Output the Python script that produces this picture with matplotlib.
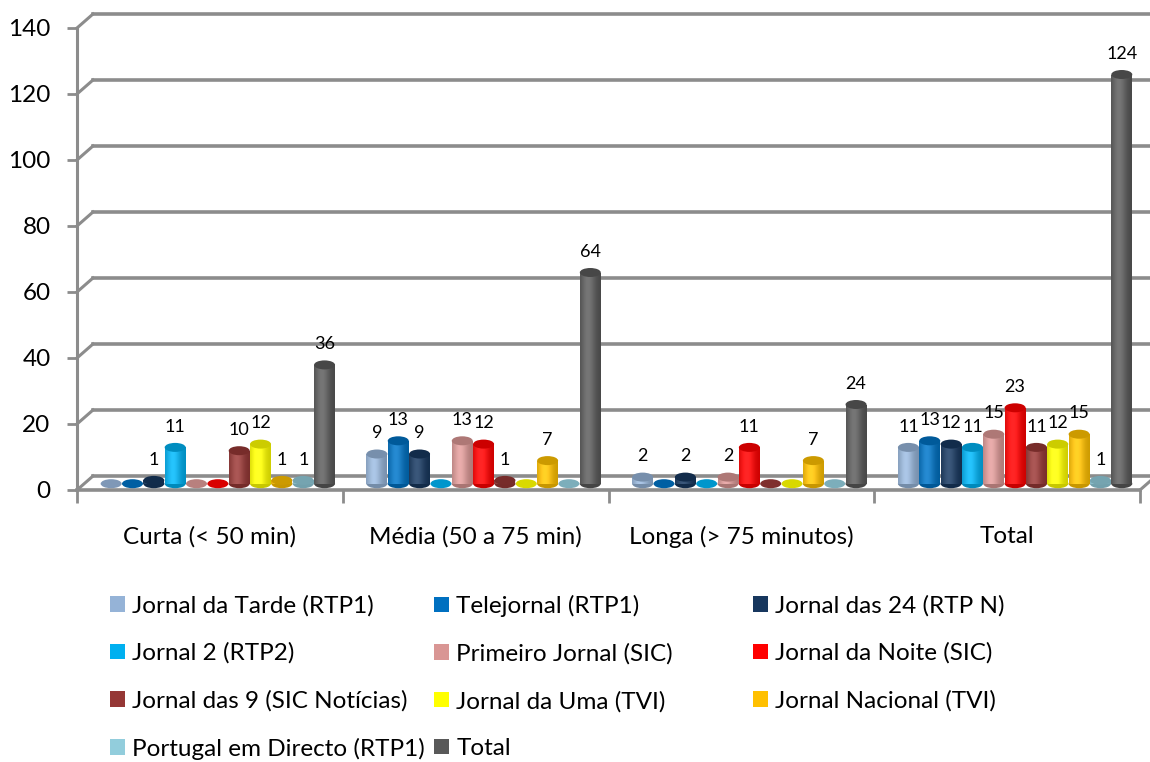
import matplotlib
matplotlib.use("Agg")
import matplotlib.pyplot as plt
import numpy as np
from matplotlib.patches import Ellipse, Patch
import matplotlib.colors as mcolors

plt.rcParams['font.family'] = ['Lato', 'DejaVu Sans']

categories = ["Curta (< 50 min)", "Média (50 a 75 min)", "Longa (> 75 minutos)", "Total"]
series = ["Jornal da Tarde (RTP1)", "Telejornal (RTP1)", "Jornal das 24 (RTP N)",
          "Jornal 2 (RTP2)", "Primeiro Jornal (SIC)", "Jornal da Noite (SIC)",
          "Jornal das 9 (SIC Notícias)", "Jornal da Uma (TVI)", "Jornal Nacional (TVI)",
          "Portugal em Directo (RTP1)", "Total"]
colors = ["#95B3D7", "#0070C0", "#17375E", "#00B0F0", "#D99694", "#FF0000",
          "#953735", "#FFFF00", "#FFC000", "#92CDDC", "#595959"]

# one list per category, in series order
curta = [0, 0, 1, 11, 0, 0, 10, 12, 1, 1, 36]
media = [9, 13, 9, 0, 13, 12, 1, 0, 7, 0, 64]
longa = [2, 0, 2, 0, 2, 11, 0, 0, 7, 0, 24]
total = [11, 13, 12, 11, 15, 23, 11, 12, 15, 1, 124]
values = np.array([curta, media, longa, total])

yticks = np.arange(0, 141, 20)
grid_col = "#8C8C8C"
fs = 17.5

W, H = 1150, 762
fig = plt.figure(figsize=(W / 100, H / 100), dpi=100)
ax_l, ax_b, ax_w, ax_h = 77, 272, 1063, 462
ax = fig.add_axes([ax_l / W, ax_b / H, ax_w / W, ax_h / H])
ax.set_xlim(-0.5, 3.5)
ax.set_ylim(0, 140)

# pixels per data unit, used for the fake 3d depth
ux = ax_w / 4.0
uy = ax_h / 140.0
dx = 16 / ux
dy = 14 / uy

for s in ["top", "right", "bottom"]:
    ax.spines[s].set_visible(False)
ax.spines["left"].set_color(grid_col)
ax.spines["left"].set_linewidth(2.2)
ax.set_facecolor("none")

ax.set_yticks(yticks)
ax.tick_params(axis="y", length=7, width=2, color=grid_col, labelsize=fs, pad=12)
ax.set_xticks(range(len(categories)))
ax.set_xticklabels(categories)
ax.tick_params(axis="x", which="major", length=0, labelsize=fs, pad=26)
ax.set_xticks(np.arange(-0.5, 3.6, 1), minor=True)
ax.tick_params(axis="x", which="minor", length=9, width=2, color=grid_col)

# back wall gridlines + left wall diagonals
for v in yticks:
    ax.plot([-0.5 + dx, 3.5 + dx], [v + dy, v + dy], color=grid_col, lw=2.6,
            clip_on=False, zorder=0.5)
    ax.plot([-0.5, -0.5 + dx], [v, v + dy], color=grid_col, lw=2.2,
            clip_on=False, zorder=0.5)

# floor
ax.plot([-0.5, 3.5], [0, 0], color=grid_col, lw=2.6, clip_on=False, zorder=1)
ax.plot([3.5, 3.5 + dx], [0, dy], color=grid_col, lw=2.2, clip_on=False, zorder=1)

pitch = 0.0803
shift = 0.03
bw = 0.079
eh = 9 / uy
base_y = dy * 0.45  # bars stand in the middle of the floor depth

t = np.linspace(0, 1, 40)
g = np.exp(-((t - 0.38) / 0.35) ** 2)

for j, (name, col) in enumerate(zip(series, colors)):
    base = np.array(mcolors.to_rgb(col))
    dark = base * 0.8
    for i in range(len(categories)):
        v = values[i, j]
        x = i + (j - 5) * pitch + shift
        if v == 0:
            ax.add_patch(Ellipse((x, base_y), bw, eh, facecolor=base * 0.85,
                                 edgecolor="none", zorder=3))
            continue
        bar = ax.bar(x, v, bw, bottom=base_y, color=col, zorder=3, linewidth=0)[0]
        shade = base[None, :] * (0.8 + 0.25 * g[:, None]) + 0.15 * g[:, None] * (1 - base[None, :])
        img = np.clip(shade, 0, 1)[None, :, :]
        im = ax.imshow(img, extent=[x - bw / 2, x + bw / 2, base_y, base_y + v],
                       aspect="auto", zorder=3.05, interpolation="bilinear")
        im.set_clip_path(bar)
        ax.add_patch(Ellipse((x, base_y), bw, eh, facecolor=base * 0.78,
                             edgecolor="none", zorder=2.95))
        ax.add_patch(Ellipse((x, base_y + v), bw, eh, facecolor=dark,
                             edgecolor="none", zorder=3.1))
        ax.annotate(str(v), (x, base_y + v), xytext=(0, 15), textcoords="offset points",
                    ha="center", va="center", fontsize=13, zorder=5)

ax.set_xlim(-0.5, 3.5)
ax.set_ylim(0, 140)

# legend: three columns, filled row by row
handles = [Patch(facecolor=c, edgecolor="none") for c in colors]
col_x = [110, 434, 753]
for c in range(3):
    idx = list(range(c, len(series), 3))
    fig.legend([handles[k] for k in idx], [series[k] for k in idx],
               loc="upper left", bbox_to_anchor=(col_x[c] / W, 1 - 595 / H),
               frameon=False, fontsize=fs, handlelength=0.62, handleheight=0.62,
               handletextpad=0.3, labelspacing=1.07, borderpad=0, borderaxespad=0)

fig.savefig("out.png", dpi=100)
